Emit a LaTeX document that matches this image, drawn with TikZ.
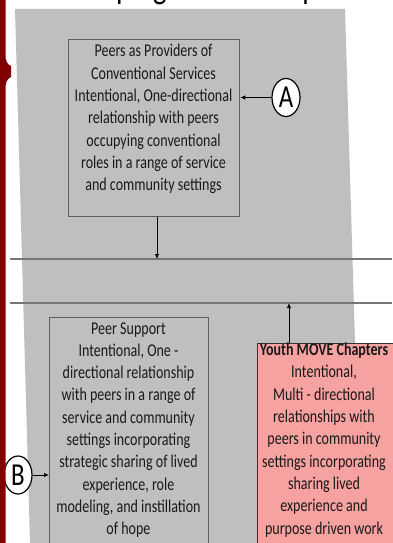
\documentclass[tikz,border=0pt]{standalone}
\usepackage{fontspec}
\setmainfont{Carlito}
\newfontfamily\narrowfont[FakeStretch=0.78]{Carlito}
\usetikzlibrary{arrows.meta,shapes.geometric}
\definecolor{panelgray}{RGB}{191,191,192}
\definecolor{stripred}{RGB}{128,0,0}
\definecolor{pinkfill}{RGB}{245,162,160}
\definecolor{lineg}{RGB}{118,118,118}
\definecolor{boxedge}{RGB}{95,95,95}
\definecolor{inkc}{RGB}{25,25,25}
\begin{document}
\begin{tikzpicture}[x=1pt,y=-1pt,
  panelbox/.style={draw=boxedge, line width=1.3pt, fill=panelgray, inner sep=0pt, anchor=north west},
  pinkbox/.style={draw=black!80, line width=1.3pt, fill=pinkfill, inner sep=0pt, anchor=north west},
  bodytext/.style={align=center, inner sep=0pt, text=inkc, font=\narrowfont\fontsize{18}{22.3}\selectfont},
  tag/.style={ellipse, draw=black, line width=1.2pt, fill=white, minimum width=28pt, minimum height=38pt, inner sep=0pt, text=black, font=\narrowfont\fontsize{32}{34}\selectfont},
  arr/.style={-{Latex[length=5pt,width=4.5pt]}, line width=0.8pt, draw=black},
  sepline/.style={draw=lineg, line width=2pt}]
\useasboundingbox (0,0) rectangle (392,543);
\fill[white] (0,0) rectangle (392,543);
% cut-off title
\begin{scope}
  \clip (0,0) rectangle (392,9);
  \node[anchor=base west, inner sep=0pt, text=black, font=\narrowfont\fontsize{37}{40}\selectfont] (title) at (77,-1.5) {Helping Relationships};
\end{scope}
% gray panel
\fill[panelgray] (15,9) -- (345,9) -- (361,543) -- (30,543) -- cycle;
% separator lines
\coordinate (l1a) at (10,259);
\coordinate (l1b) at (392,259);
\coordinate (l2a) at (10,303);
\coordinate (l2b) at (392,303);
\draw[sepline] (l1a) -- (l1b);
\draw[sepline] (l2a) -- (l2b);
% boxes
\node[panelbox, minimum width=171pt, minimum height=177pt] (provider) at (68,39) {};
\node[bodytext] (providertext) at (153.5,119) {Peers as Providers of\\Conventional Services\\Intentional, One-directional\\relationship with peers\\occupying conventional\\roles in a range of service\\and community settings};
\node[panelbox, minimum width=159pt, minimum height=240pt] (support) at (49,317) {};
\node[bodytext] (supporttext) at (128.5,430) {Peer Support\\Intentional, One -\\directional relationship\\with peers in a range of\\service and community\\settings incorporating\\strategic sharing of lived\\experience, role\\modeling, and instillation\\of hope};
\node[pinkbox, minimum width=140pt, minimum height=220pt] (youth) at (257,343) {};
\node[bodytext] (youthtext) at (324,440) {\textbf{Youth MOVE Chapters}\\Intentional,\\Multi - directional\\relationships with\\peers in community\\settings incorporating\\sharing lived\\experience and\\purpose driven work};
% tags
\node[tag] (A) at (286,97.5) {A};
\node[tag] (B) at (18,475) {B};
% arrows
\coordinate (d1) at (157,259);
\coordinate (u1) at (289,303);
\draw[arr] (provider.south -| d1) -- (d1);
\draw[arr] (youth.north -| u1) -- (u1);
\draw[arr] (A.west) -- (provider.east |- A.west);
\draw[arr] (B.east) -- (support.west |- B.east);
% red strip
\fill[stripred] (0,0) -- (5.5,0) -- (5.5,57) .. controls (5.5,61) and (8,65) .. (11,66) -- (11,77)
  .. controls (8,78) and (5.5,82) .. (5.5,87) -- (5.5,543) -- (0,543) -- cycle;
\end{tikzpicture}
\end{document}
